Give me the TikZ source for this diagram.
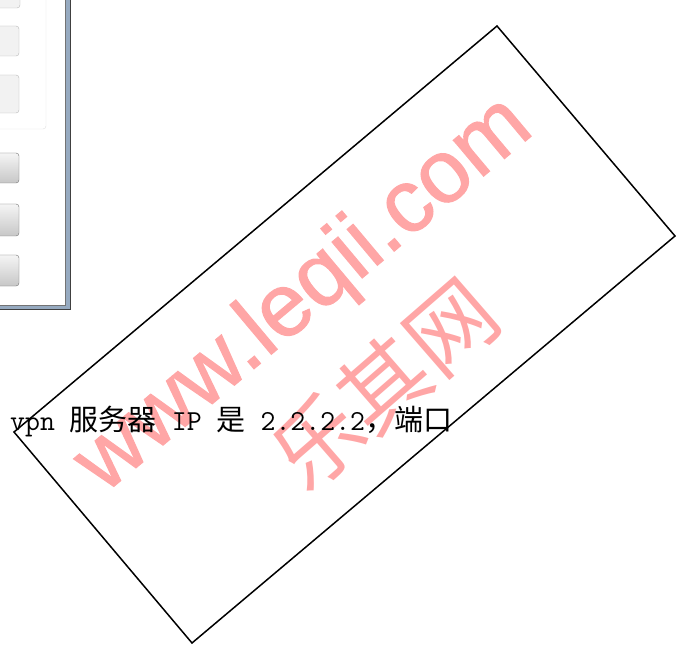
\documentclass[tikz,border=0pt]{standalone}
\usepackage{fontspec}
\usepackage{xcolor}
\setmainfont{Liberation Serif}
\newfontfamily\cjk{Noto Sans CJK SC}
\newfontfamily\wmfont[FakeBold=1.2]{Liberation Sans}
\usetikzlibrary{positioning, calc}
\definecolor{wmpink}{RGB}{255,166,166}
\definecolor{framebl}{RGB}{150,170,192}
\tikzset{
  flatbtn/.style={draw=gray!55,fill=black!5,rounded corners=3pt},
  btn/.style={draw=black!55,rounded corners=3pt,top color=black!4,bottom color=black!22},
  wm/.style={text=wmpink,inner sep=0pt}
}

\begin{document}
\begin{tikzpicture}[x=1pt,y=-1pt]
  \useasboundingbox (0,0) rectangle (685,652);
  % window edge
  \fill[framebl] (-5,-5) rectangle (70,309);
  \draw[black!75,line width=0.8pt] (-5,309)--(70,309)--(70,-5);
  \draw[fill=white,draw=black!55] (-5,-5) rectangle (65,305);
  \draw[black!12,rounded corners=3pt] (-10,-10) rectangle (46,129);% group box
  \draw[flatbtn] (-10,-10) rectangle (20,8);
  \draw[flatbtn] (-10,26) rectangle (19,56);
  \draw[flatbtn] (-10,75) rectangle (19,113);
  \foreach \t/\b in {153/183,204/236,255/286}
    \draw[btn] (-10,\t) rectangle (19,\b);
  % watermark
  \node[wm,rotate=40,font=\wmfont\fontsize{89}{89}\selectfont] (site) at (305,296) {www.leqii.com};
  \node[wm,rotate=41,font=\cjk\fontsize{88}{88}\selectfont] (name) at (384,384) {乐其网};
  \node[anchor=base west,inner sep=0pt,font=\fontsize{29}{29}\selectfont] (info) at (10,430)
    {\texttt{vpn }{\cjk 服务器}\texttt{ IP }{\cjk 是}\texttt{ 2.2.2.2}{\cjk ，端口}};
  \coordinate (L) at (14,432);
  \coordinate (T) at (497,26);
  \coordinate (R) at (675,236);
  \coordinate (B) at (192,643);
  \draw[line width=1.5pt] (L)--(T)--(R)--(B)--cycle;
\end{tikzpicture}
\end{document}
